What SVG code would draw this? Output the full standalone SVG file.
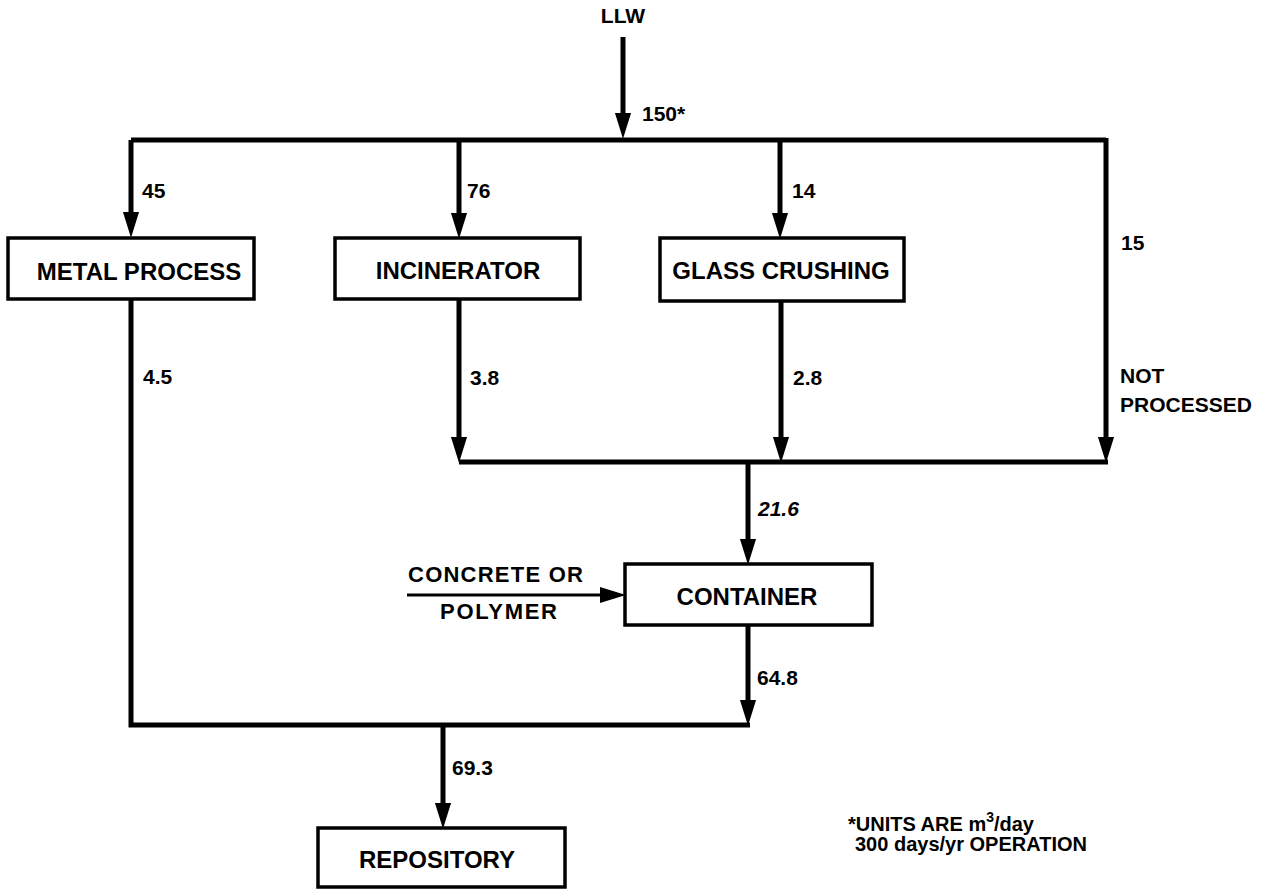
<svg xmlns="http://www.w3.org/2000/svg" width="1262" height="889" viewBox="0 0 1262 889">
<style>
.bg{fill:#ffffff}
.box{fill:#ffffff;stroke:#000;stroke-width:3.5}
.ln{fill:none;stroke:#000;stroke-width:5;stroke-linejoin:miter}
.thin{fill:none;stroke:#000;stroke-width:3}
.t{font-family:"Liberation Sans",Arial,sans-serif;font-weight:bold;fill:#000}
.bl{font-size:24px;text-anchor:middle}
.lb{font-size:21px}
.it{font-style:italic}
.nt{font-size:20px}
</style>
<defs>
<marker id="ah" markerUnits="userSpaceOnUse" markerWidth="26" markerHeight="18" viewBox="0 0 24 16" refX="14" refY="8" orient="auto">
<path d="M0,0.5 L24,8 L0,15.5 z" fill="#000"/>
</marker>
</defs>
<rect class="bg" x="0" y="0" width="1262" height="889"/>

<g id="connectors">
<path class="ln" d="M623,37 V128" marker-end="url(#ah)"/>
<path class="ln" d="M131,140 H1106"/>
<path class="ln" d="M131,140 V227" marker-end="url(#ah)"/>
<path class="ln" d="M459,140 V228" marker-end="url(#ah)"/>
<path class="ln" d="M780,140 V228" marker-end="url(#ah)"/>
<path class="ln" d="M1106,138 V452" marker-end="url(#ah)"/>
<path class="ln" d="M459,300 V452" marker-end="url(#ah)"/>
<path class="ln" d="M781,302 V452" marker-end="url(#ah)"/>
<path class="ln" d="M459,462 H1108"/>
<path class="ln" d="M748,462 V554" marker-end="url(#ah)"/>
<path class="thin" d="M407,595 H615" marker-end="url(#ah)"/>
<path class="ln" d="M748,625 V715" marker-end="url(#ah)"/>
<path class="ln" d="M131,299 V725 H750"/>
<path class="ln" d="M443,725 V818" marker-end="url(#ah)"/>
</g>

<g id="labels">
<text class="t lb" x="623" y="23" text-anchor="middle">LLW</text>
<text class="t lb" x="642" y="121">150*</text>
<text class="t lb" x="142" y="198">45</text>
<text class="t lb" x="467" y="198">76</text>
<text class="t lb" x="792" y="198">14</text>
<text class="t lb" x="1121" y="250">15</text>
<text class="t lb" x="143" y="384">4.5</text>
<text class="t lb" x="470" y="385">3.8</text>
<text class="t lb" x="793" y="385">2.8</text>
<text class="t lb" x="1120" y="383">NOT</text>
<text class="t lb" x="1120" y="412">PROCESSED</text>
<text class="t lb it" x="758" y="516">21.6</text>
<text class="t" font-size="22" x="408" y="582" textLength="175" lengthAdjust="spacing">CONCRETE OR</text>
<text class="t" font-size="22" x="440" y="619" textLength="117" lengthAdjust="spacing">POLYMER</text>
<text class="t lb" x="757" y="685">64.8</text>
<text class="t lb" x="452" y="775">69.3</text>
<text class="t nt" x="848" y="831">*UNITS ARE m<tspan font-size="14" dy="-9">3</tspan><tspan dy="9">/day</tspan></text>
<text class="t nt" x="855" y="851">300 days/yr OPERATION</text>
</g>

<g id="metal-process">
<rect class="box" x="8" y="238" width="246" height="61"/>
<text class="t bl" x="139" y="280">METAL PROCESS</text>
</g>
<g id="incinerator">
<rect class="box" x="335" y="238" width="245" height="61"/>
<text class="t bl" x="458" y="279">INCINERATOR</text>
</g>
<g id="glass-crushing">
<rect class="box" x="660" y="238" width="244" height="63"/>
<text class="t bl" x="781" y="279">GLASS CRUSHING</text>
</g>
<g id="container">
<rect class="box" x="625" y="564" width="247" height="61"/>
<text class="t bl" x="747" y="605">CONTAINER</text>
</g>
<g id="repository">
<rect class="box" x="318" y="828" width="247" height="59"/>
<text class="t bl" x="437" y="868" font-size="23">REPOSITORY</text>
</g>
</svg>
